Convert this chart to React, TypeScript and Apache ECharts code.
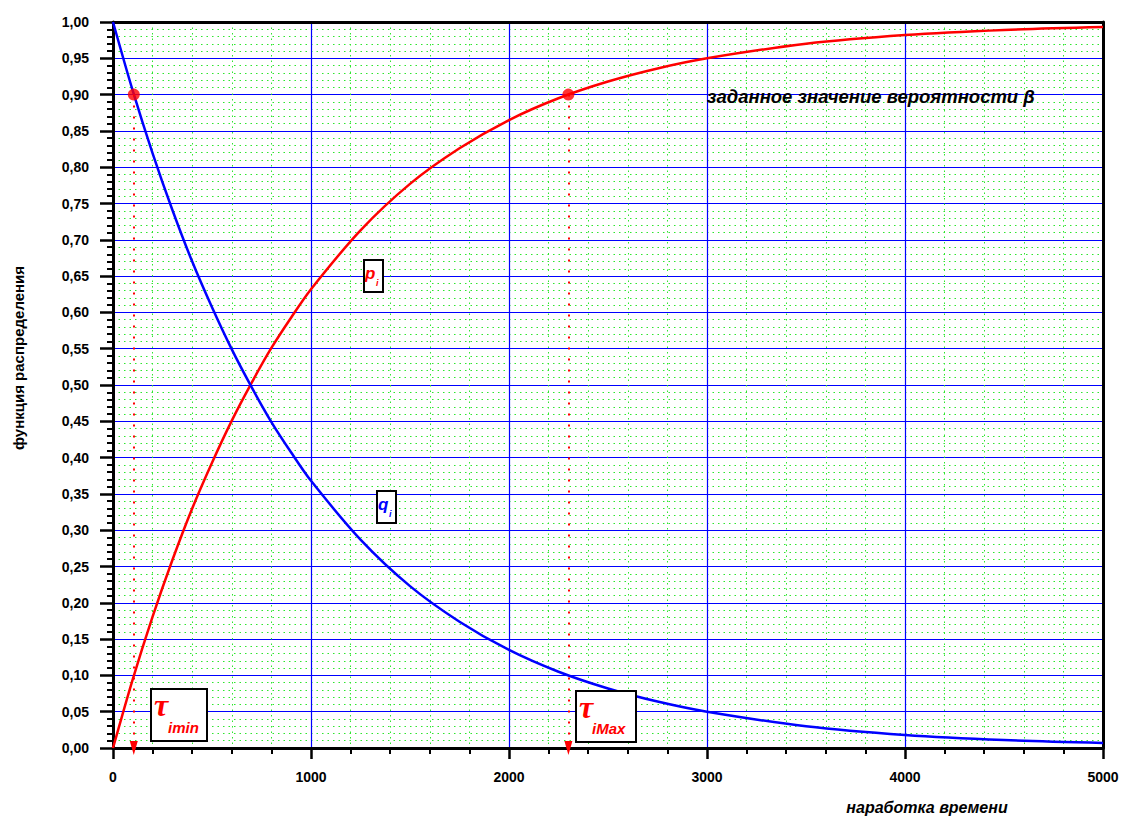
import React, { useEffect, useRef } from "react";
import * as echarts from "echarts";

// operating time (x) and read-off values of the two distribution functions
const timeValues = [0, 100, 200, 300, 400, 500, 600, 700, 800, 900, 1000, 1250, 1500, 1750, 2000, 2250, 2500, 2750, 3000, 3500, 4000, 4500, 5000];
const qValues = [1.0, 0.905, 0.819, 0.741, 0.67, 0.607, 0.549, 0.497, 0.449, 0.407, 0.368, 0.287, 0.223, 0.174, 0.135, 0.105, 0.082, 0.064, 0.05, 0.03, 0.018, 0.011, 0.007];
const pValues = [0.0, 0.095, 0.181, 0.259, 0.33, 0.393, 0.451, 0.503, 0.551, 0.593, 0.632, 0.713, 0.777, 0.826, 0.865, 0.895, 0.918, 0.936, 0.95, 0.97, 0.982, 0.989, 0.993];
const betaTimes = [105, 2300];
const betaValue = 0.9;

const FONT = "Arial";

export default function App() {
  const ref = useRef<HTMLDivElement>(null);
  useEffect(() => {
    if (!ref.current) return;
    const chart = echarts.init(ref.current, undefined, { renderer: "svg" });
    const qData = timeValues.map((t, i) => [t, qValues[i]]);
    const pData = timeValues.map((t, i) => [t, pValues[i]]);
    const dots = betaTimes.map((t) => [t, betaValue]);
    const guideLines = betaTimes.map((t) => [
      { coord: [t, betaValue] },
      { coord: [t, 0] },
    ]);

    const boxText = (x: number, y: number, w: number, h: number, children: any[]) => ({
      type: "group",
      x,
      y,
      children: [
        { type: "rect", z: 100, shape: { x: 0, y: 0, width: w, height: h }, style: { fill: "#fff", stroke: "#000", lineWidth: 2 } },
        ...children.map((c) => ({ ...c, z: 101 })),
      ],
    });

    chart.setOption({
      animation: false,
      backgroundColor: "#fff",
      grid: { left: 113, right: 19, top: 22, bottom: 71 },
      xAxis: [
        {
          type: "value",
          min: 0,
          max: 5000,
          interval: 1000,
          axisLine: { show: true, onZero: false, lineStyle: { color: "#000", width: 3 } },
          axisTick: { show: true, length: 11, lineStyle: { color: "#000", width: 2.5 } },
          minorTick: { show: true, splitNumber: 5, length: 6, lineStyle: { color: "#000", width: 2 } },
          axisLabel: {
            margin: 22,
            color: "#000",
            fontWeight: 700,
            fontSize: 14,
            fontFamily: FONT,
            formatter: (v: number) => String(v),
          },
          splitLine: { show: true, lineStyle: { color: "#0000ff", width: 1.2 } },
          minorSplitLine: { show: true, lineStyle: { color: "#2ee62e", width: 1, type: [1.5, 4] } },
        },
        {
          type: "value",
          position: "top",
          min: 0,
          max: 5000,
          axisLine: { show: true, onZero: false, lineStyle: { color: "#000", width: 3 } },
          axisTick: { show: false },
          axisLabel: { show: false },
          splitLine: { show: false },
        },
      ],
      yAxis: [
        {
          type: "value",
          min: 0,
          max: 1,
          interval: 0.05,
          axisLine: { show: true, onZero: false, lineStyle: { color: "#000", width: 3 } },
          axisTick: { show: true, length: 13, lineStyle: { color: "#000", width: 2.5 } },
          minorTick: { show: true, splitNumber: 5, length: 6, lineStyle: { color: "#000", width: 2 } },
          axisLabel: {
            margin: 24,
            color: "#000",
            fontWeight: 700,
            fontSize: 14,
            fontFamily: FONT,
            formatter: (v: number) => v.toFixed(2).replace(".", ","),
          },
          splitLine: { show: true, lineStyle: { color: "#0000ff", width: 1.2 } },
          minorSplitLine: { show: true, lineStyle: { color: "#2ee62e", width: 1, type: [1.5, 4] } },
        },
        {
          type: "value",
          position: "right",
          min: 0,
          max: 1,
          axisLine: { show: true, onZero: false, lineStyle: { color: "#000", width: 3 } },
          axisTick: { show: false },
          axisLabel: { show: false },
          splitLine: { show: false },
        },
      ],
      series: [
        {
          type: "line",
          name: "p",
          data: pData,
          smooth: 0.3,
          showSymbol: false,
          lineStyle: { color: "#ff0000", width: 2.5 },
          z: 3,
          markLine: {
            silent: true,
            symbol: ["none", "triangle"],
            symbolSize: [8, 14],
            label: { show: false },
            lineStyle: { color: "#ff0000", width: 2, type: [2, 9] },
            data: guideLines,
          },
        },
        {
          type: "line",
          name: "q",
          data: qData,
          smooth: 0.3,
          showSymbol: false,
          lineStyle: { color: "#0000ff", width: 2.5 },
          z: 4,
        },
        {
          type: "scatter",
          name: "beta",
          data: dots,
          symbolSize: 12,
          itemStyle: { color: "#ff0000" },
          z: 5,
        },
      ],
      graphic: [
        {
          type: "text",
          x: 18,
          y: 358,
          rotation: Math.PI / 2,
          style: {
            text: "функция распределения",
            fill: "#000",
            font: `bold 15px ${FONT}`,
            align: "center",
            verticalAlign: "middle",
          },
        },
        {
          type: "text",
          x: 927,
          y: 807,
          style: {
            text: "наработка времени",
            fill: "#000",
            font: `italic bold 16px ${FONT}`,
            align: "center",
            verticalAlign: "middle",
          },
        },
        {
          type: "text",
          x: 707,
          y: 96,
          z: 100,
          style: {
            text: "заданное значение вероятности β",
            fill: "#000",
            font: `italic bold 18.5px ${FONT}`,
            align: "left",
            verticalAlign: "middle",
          },
        },
        boxText(151, 689, 56, 52, [
          { type: "text", x: 3, y: 0, style: { text: "τ", fill: "#ff0000", font: "italic bold 32px 'Liberation Serif'" } },
          { type: "text", x: 17, y: 31, style: { text: "imin", fill: "#ff0000", font: `italic bold 15px ${FONT}` } },
        ]),
        boxText(576, 691, 60, 51, [
          { type: "text", x: 3, y: 0, style: { text: "τ", fill: "#ff0000", font: "italic bold 32px 'Liberation Serif'" } },
          { type: "text", x: 16, y: 30, style: { text: "iMax", fill: "#ff0000", font: `italic bold 15px ${FONT}` } },
        ]),
        boxText(364, 260, 19, 32, [
          { type: "text", x: 1, y: 5, style: { text: "p", fill: "#ff0000", font: `italic bold 17px ${FONT}` } },
          { type: "text", x: 12, y: 18, style: { text: "i", fill: "#ff0000", font: `italic bold 9px ${FONT}` } },
        ]),
        boxText(377, 491, 19, 32, [
          { type: "text", x: 1, y: 5, style: { text: "q", fill: "#0000ff", font: `italic bold 17px ${FONT}` } },
          { type: "text", x: 12, y: 18, style: { text: "i", fill: "#0000ff", font: `italic bold 9px ${FONT}` } },
        ]),
      ],
    });
    return () => chart.dispose();
  }, []);
  return <div ref={ref} style={{ position: "fixed", left: 0, top: 0, width: 1122, height: 819 }} />;
}
